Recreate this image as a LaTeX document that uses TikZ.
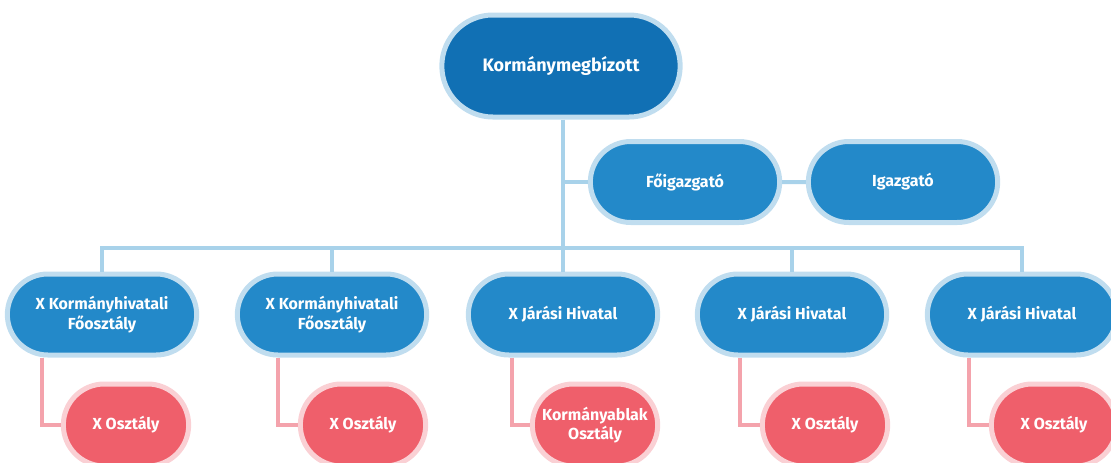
\documentclass[tikz,border=0pt]{standalone}
\usepackage{fontspec}
\setsansfont{Fira Sans}
\usetikzlibrary{shapes.misc}
\definecolor{gyuru}{HTML}{C0DDEF}
\definecolor{kekfill}{HTML}{2389C9}
\definecolor{sotetkek}{HTML}{1170B4}
\definecolor{vonal}{HTML}{A8D2EA}
\definecolor{pirosfill}{HTML}{EF5F6B}
\definecolor{pirosgyuru}{HTML}{FAD0D4}
\definecolor{rozsa}{HTML}{F4A3AC}

\begin{document}
\begin{tikzpicture}[x=1pt, y=-1pt]
\tikzset{kekdoboz/.style={rounded rectangle, draw=gyuru, line width=5pt, fill=kekfill, text=white,
  minimum width=196pt, minimum height=81pt, align=center, font=\sffamily\bfseries\fontsize{16}{19.5}\selectfont}}
\tikzset{piros/.style={rounded rectangle, draw=pirosgyuru, line width=5pt, fill=pirosfill, text=white,
  minimum width=132pt, minimum height=82pt, align=center, font=\sffamily\bfseries\fontsize{16}{19.5}\selectfont}}
\tikzset{kekvonal/.style={draw=vonal, line width=4pt}}
\tikzset{pirosvonal/.style={draw=rozsa, line width=4pt}}
\useasboundingbox (0,0) rectangle (1111,463);
\clip (0,0) rectangle (1111,463);
\node[kekdoboz, fill=sotetkek, minimum width=245pt, minimum height=102pt,
  font=\sffamily\bfseries\fontsize{18}{22}\selectfont] (boss) at (561,66) {Kormánymegbízott};
\node[kekdoboz] (fo) at (685,182) {Főigazgató};
\node[kekdoboz] (ig) at (903,182) {Igazgató};
\node[kekdoboz] (k1) at (102,314.5) {X Kormányhivatali\\Főosztály};
\node[kekdoboz] (k2) at (332,314.5) {X Kormányhivatali\\Főosztály};
\node[kekdoboz] (j3) at (563,314.5) {X Járási Hivatal};
\node[kekdoboz] (j4) at (792,314.5) {X Járási Hivatal};
\node[kekdoboz] (j5) at (1022,314.5) {X Járási Hivatal};
\node[piros] (o1) at (126,425) {X Osztály};
\node[piros] (o2) at (363,425) {X Osztály};
\node[piros] (o3) at (595,425) {Kormányablak\\Osztály};
\node[piros] (o4) at (825,425) {X Osztály};
\node[piros] (o5) at (1054,425) {X Osztály};
\coordinate (sin) at (563,248);
\draw[kekvonal] (j3.north |- boss.south) -- (j3.north);
\draw[kekvonal] (fo.west) -- (fo.west -| j3.north);
\draw[kekvonal] (fo) -- (ig);
\draw[kekvonal] (k1.north) -- (k1.north |- sin) -- (j5.north |- sin) -- (j5.north);
\draw[kekvonal] (k2.north) -- (k2.north |- sin);
\draw[kekvonal] (j4.north) -- (j4.north |- sin);
\draw[pirosvonal] ([xshift=-60pt]k1.south) |- (o1.west);
\draw[pirosvonal] ([xshift=-54pt]k2.south) |- (o2.west);
\draw[pirosvonal] ([xshift=-51pt]j3.south) |- (o3.west);
\draw[pirosvonal] ([xshift=-52pt]j4.south) |- (o4.west);
\draw[pirosvonal] ([xshift=-53pt]j5.south) |- (o5.west);
\end{tikzpicture}
\end{document}
